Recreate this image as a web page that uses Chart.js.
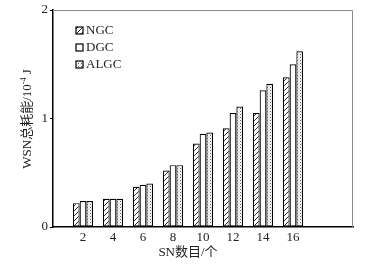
<!DOCTYPE html>
<html>
<head>
<meta charset="utf-8">
<script src="https://cdn.jsdelivr.net/npm/chart.js@4/dist/chart.umd.min.js"></script>
<style>
  html, body { margin: 0; padding: 0; background: #fff; }
  #wrap { width: 378px; height: 266px; position: relative; }
</style>
</head>
<body>
<div id="wrap"><canvas id="chartBar" width="378" height="266"></canvas></div>
<script>
// valores
const numerosSN = [2, 4, 6, 8, 10, 12, 14, 16];
const energiaNGC = [0.22, 0.26, 0.37, 0.52, 0.77, 0.91, 1.05, 1.38];
const energiaDGC = [0.24, 0.26, 0.39, 0.57, 0.86, 1.05, 1.26, 1.50];
const energiaALGC = [0.24, 0.26, 0.40, 0.57, 0.87, 1.11, 1.32, 1.62];
const nomesSeries = ['NGC', 'DGC', 'ALGC'];
const ticksY = [0, 1, 2];
const ticksX = [2, 4, 6, 8, 10, 12, 14, 16];

const fonteSerif = '"Liberation Serif", "Times New Roman", "Noto Sans CJK SC", serif';
const corTexto = '#222';

function padraoHachura() {
    const c = document.createElement('canvas');
    c.width = 5; c.height = 5;
    const g = c.getContext('2d');
    g.fillStyle = '#fff';
    g.fillRect(0, 0, 5, 5);
    g.strokeStyle = '#111';
    g.lineWidth = 0.9;
    g.beginPath();
    g.moveTo(-1, 6); g.lineTo(6, -1);
    g.moveTo(-1, 1); g.lineTo(1, -1);
    g.moveTo(4, 6); g.lineTo(6, 4);
    g.stroke();
    return g.createPattern(c, 'repeat');
}

function padraoPontos() {
    const c = document.createElement('canvas');
    c.width = 3; c.height = 3;
    const g = c.getContext('2d');
    g.fillStyle = '#fff';
    g.fillRect(0, 0, 3, 3);
    g.fillStyle = '#555';
    g.fillRect(0, 0, 1, 1);
    g.fillStyle = '#999';
    g.fillRect(1.5, 1.5, 1, 1);
    return g.createPattern(c, 'repeat');
}

const fundos = [padraoHachura(), '#fff', padraoPontos()];
const valores = [energiaNGC, energiaDGC, energiaALGC];

var dadosBarra = {
    datasets: nomesSeries.map(function (nome, i) {
        return {
            label: nome,
            data: numerosSN.map(function (x, j) { return { x: x, y: valores[i][j] }; }),
            backgroundColor: fundos[i],
            borderColor: '#000',
            borderWidth: 1.2,
            borderSkipped: false,
            categoryPercentage: 0.67,
            barPercentage: 1.0
        };
    })
};

// legenda, titulos e moldura desenhados a mao
const extras = {
    id: 'extras',
    afterDraw: function (chart) {
        const g = chart.ctx;
        const a = chart.chartArea;
        g.save();
        // moldura cinza em cima e a direita
        g.strokeStyle = '#8a8a8a';
        g.lineWidth = 1;
        g.beginPath();
        g.moveTo(a.left, a.top + 0.5);
        g.lineTo(a.right - 0.5, a.top + 0.5);
        g.lineTo(a.right - 0.5, a.bottom);
        g.stroke();

        // legenda
        g.font = '13px ' + fonteSerif;
        g.textBaseline = 'middle';
        g.textAlign = 'left';
        const linhas = [31, 48, 65];
        for (let i = 0; i < nomesSeries.length; i++) {
            const y = linhas[i];
            g.fillStyle = fundos[i];
            g.fillRect(76, y - 4, 7, 7);
            g.strokeStyle = '#000';
            g.lineWidth = 1.2;
            g.strokeRect(76, y - 4, 7, 7);
            g.fillStyle = corTexto;
            g.fillText(nomesSeries[i], 86, y);
        }

        // titulo eixo x
        g.textAlign = 'center';
        g.fillText('SN数目/个', 188, 253);

        // titulo eixo y (rotacionado)
        g.translate(28, 119);
        g.rotate(-Math.PI / 2);
        const partes = [
            { t: 'WSN总耗能/10', f: '13px ', dy: 0 },
            { t: '-4', f: '8px ', dy: -4 },
            { t: ' J', f: '13px ', dy: 0 }
        ];
        let largura = 0;
        partes.forEach(function (p) { g.font = p.f + fonteSerif; p.w = g.measureText(p.t).width; largura += p.w; });
        let x = -largura / 2;
        g.textAlign = 'left';
        partes.forEach(function (p) {
            g.font = p.f + fonteSerif;
            g.fillText(p.t, x, p.dy);
            x += p.w;
        });
        g.restore();
    }
};

const ctx = document.getElementById('chartBar');

var myBarChart = new Chart(ctx, {
    type: 'bar',
    data: dadosBarra,
    plugins: [extras],
    options: {
        responsive: false,
        animation: false,
        devicePixelRatio: 1,
        layout: { padding: { top: 10, right: 25, left: 0, bottom: 0 } },
        scales: {
            x: {
                type: 'linear',
                min: 0,
                max: 20,
                offset: false,
                afterFit: function (s) { s.height = 39; },
                grid: { display: false, drawTicks: false },
                border: { display: true, color: '#000', width: 1.5 },
                ticks: {
                    stepSize: 2,
                    padding: 3,
                    color: corTexto,
                    font: { family: fonteSerif, size: 13 },
                    maxRotation: 0,
                    autoSkip: false,
                    callback: function (v) { return ticksX.includes(v) ? String(v) : ''; }
                }
            },
            y: {
                min: 0,
                max: 2,
                afterFit: function (s) { s.width = 53; },
                afterBuildTicks: function (s) { s.ticks = ticksY.map(function (v) { return { value: v }; }); },
                grid: { display: true, drawOnChartArea: false, drawTicks: true, tickLength: 3, color: '#000' },
                border: { display: true, color: '#000', width: 1.5 },
                ticks: {
                    padding: 2,
                    color: corTexto,
                    font: { family: fonteSerif, size: 13 }
                }
            }
        },
        plugins: {
            legend: { display: false },
            tooltip: { enabled: false }
        }
    }
});
</script>
</body>
</html>
